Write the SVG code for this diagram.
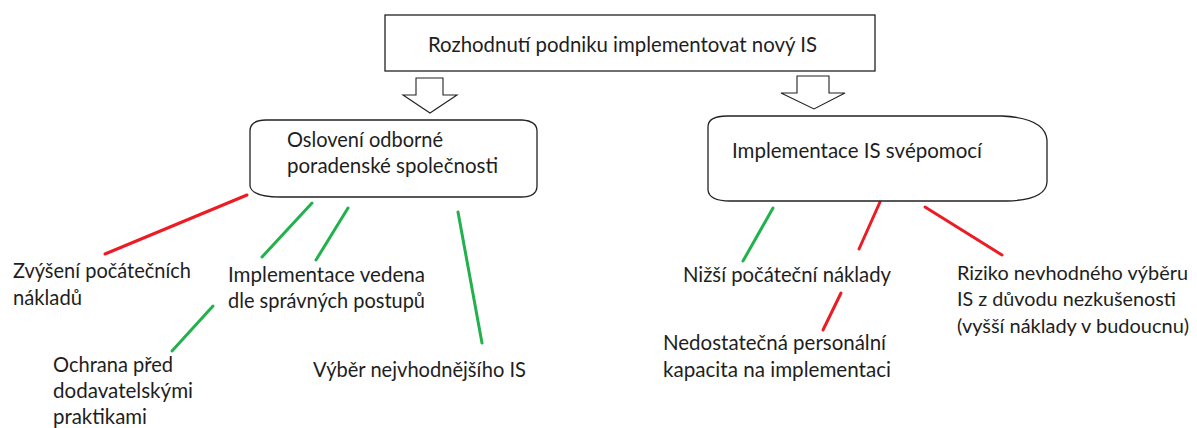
<svg xmlns="http://www.w3.org/2000/svg" width="1197" height="428" viewBox="0 0 1197 428">
<style>
.t{font-family:Lato,"Open Sans","Liberation Sans",sans-serif;font-size:21px;fill:#1e1e1e}
.s{font-size:19.5px}
.box{fill:#fff;stroke:#222;stroke-width:1.3}
.arr{fill:#fff;stroke:#222;stroke-width:1.1;stroke-linejoin:miter}
.red{stroke:#ed1c24;stroke-width:3;stroke-linecap:round;fill:none}
.grn{stroke:#22b14c;stroke-width:3;stroke-linecap:round;fill:none}
</style>
<rect width="1197" height="428" fill="#fff"/>
<g id="connectors">
  <polygon class="arr" points="416,78 443,78 443,95 457,95 430,113 403,95 416,95"/>
  <polygon class="arr" points="797,76 829,76 829,93 845,93 814,109 781,93 797,93"/>
  <line class="red" x1="247" y1="195" x2="105" y2="254"/>
  <line class="grn" x1="312" y1="203" x2="262" y2="257"/>
  <line class="grn" x1="348" y1="208" x2="316" y2="260"/>
  <line class="grn" x1="458" y1="212" x2="482" y2="343"/>
  <line class="grn" x1="213" y1="306" x2="172" y2="351"/>
  <line class="grn" x1="773" y1="208" x2="743" y2="261"/>
  <line class="red" x1="880" y1="202" x2="859" y2="249"/>
  <line class="red" x1="925" y1="207" x2="1002" y2="255"/>
  <line class="red" x1="841" y1="293" x2="823" y2="330"/>
</g>
<g id="root">
  <rect class="box" x="385" y="15" width="490" height="56"/>
  <text class="t" x="428" y="52" textLength="389" lengthAdjust="spacingAndGlyphs">Rozhodnutí podniku implementovat nový IS</text>
</g>
<g id="poradenska">
  <path class="box" d="M250,131 Q250,120 266,120 L522,120 Q537,121 537,131 L537,186 Q537,197 521,197 L281,197 Q252,197 250,186 Z"/>
  <text class="t" x="287" y="147" textLength="156" lengthAdjust="spacingAndGlyphs">Oslovení odborné</text>
  <text class="t" x="287" y="173" textLength="211" lengthAdjust="spacingAndGlyphs">poradenské společnosti</text>
</g>
<g id="svepomoci">
  <path class="box" d="M708,127 Q708,116 727,116 L1002,116 Q1045,118 1047,140 L1047,182 Q1046,200 1007,201 L730,201 Q709,201 708,190 Z"/>
  <text class="t" x="732" y="158" textLength="250" lengthAdjust="spacingAndGlyphs">Implementace IS svépomocí</text>
</g>
<g id="zvyseni">
  <text class="t" x="13" y="278" textLength="178" lengthAdjust="spacingAndGlyphs">Zvýšení počátečních</text>
  <text class="t" x="13" y="305" textLength="69" lengthAdjust="spacingAndGlyphs">nákladů</text>
</g>
<g id="postupy">
  <text class="t" x="228" y="282" textLength="197" lengthAdjust="spacingAndGlyphs">Implementace vedena</text>
  <text class="t" x="228" y="308" textLength="197" lengthAdjust="spacingAndGlyphs">dle správných postupů</text>
</g>
<g id="ochrana">
  <text class="t" x="53" y="372" textLength="120" lengthAdjust="spacingAndGlyphs">Ochrana před</text>
  <text class="t" x="53" y="398" textLength="140" lengthAdjust="spacingAndGlyphs">dodavatelskými</text>
  <text class="t" x="53" y="424" textLength="94" lengthAdjust="spacingAndGlyphs">praktikami</text>
</g>
<g id="vyber">
  <text class="t" x="313" y="377" textLength="213" lengthAdjust="spacingAndGlyphs">Výběr nejvhodnějšího IS</text>
</g>
<g id="nizsi">
  <text class="t" x="683" y="282" textLength="208" lengthAdjust="spacingAndGlyphs">Nižší počáteční náklady</text>
</g>
<g id="kapacita">
  <text class="t" x="663" y="350" textLength="223" lengthAdjust="spacingAndGlyphs">Nedostatečná personální</text>
  <text class="t" x="663" y="377" textLength="228" lengthAdjust="spacingAndGlyphs">kapacita na implementaci</text>
</g>
<g id="riziko">
  <text class="t s" x="957" y="280" textLength="231" lengthAdjust="spacingAndGlyphs">Riziko nevhodného výběru</text>
  <text class="t s" x="957" y="306" textLength="219" lengthAdjust="spacingAndGlyphs">IS z důvodu nezkušenosti</text>
  <text class="t s" x="957" y="333" textLength="232" lengthAdjust="spacingAndGlyphs">(vyšší náklady v budoucnu)</text>
</g>
</svg>
